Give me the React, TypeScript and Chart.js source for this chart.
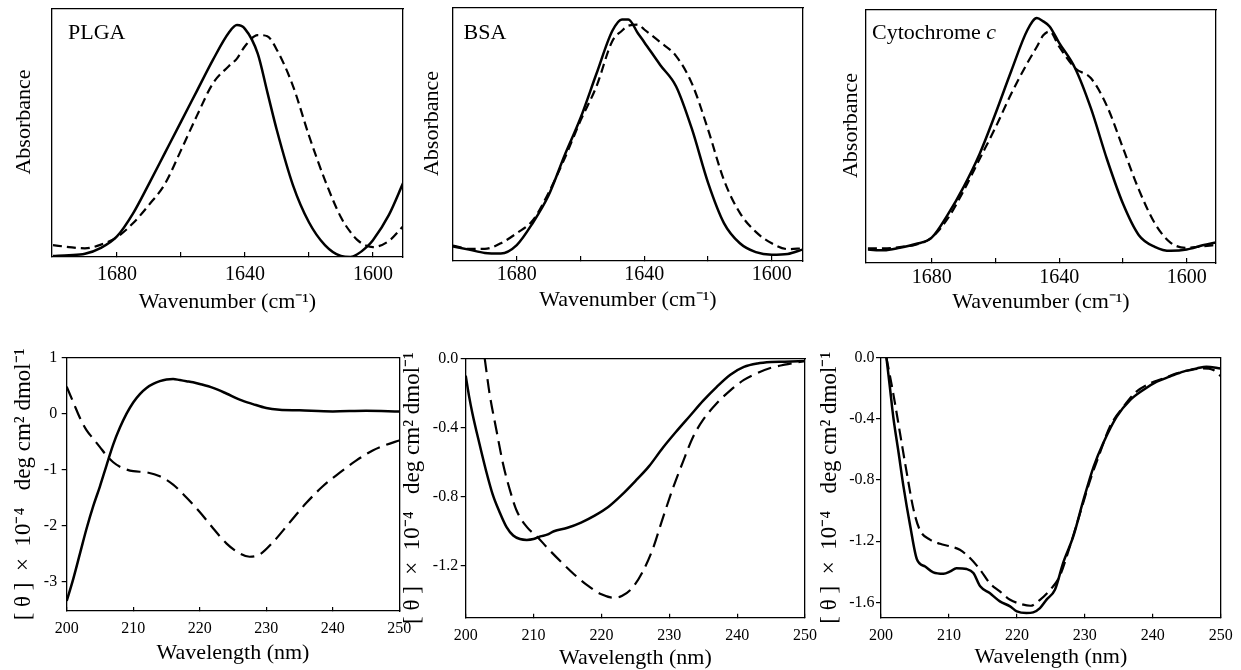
import React, { useEffect, useRef } from 'react';
import { Chart, registerables } from 'chart.js';

Chart.register(...registerables);

const SERIF = "'Liberation Serif', 'Times New Roman', serif";

// ---------- FTIR (amide I) data, normalised absorbance ----------
const ftirTicks = [1680, 1660, 1640, 1620, 1600];
const ftirLabeled = [1680, 1640, 1600];

const plgaWn = [1700, 1695, 1690, 1685, 1680, 1675, 1670, 1665, 1660, 1655, 1650, 1645, 1642.5, 1640, 1636, 1633, 1630, 1625, 1620, 1615, 1610, 1607, 1605, 1602, 1600, 1595, 1590.5];
const plgaSolid = [0.004, 0.007, 0.013, 0.037, 0.083, 0.175, 0.295, 0.42, 0.545, 0.67, 0.795, 0.905, 0.935, 0.92, 0.82, 0.665, 0.51, 0.29, 0.14, 0.048, 0.004, 0.0, 0.01, 0.04, 0.068, 0.17, 0.3];
const plgaDashed = [0.048, 0.04, 0.035, 0.05, 0.08, 0.136, 0.21, 0.295, 0.43, 0.57, 0.7, 0.77, 0.8, 0.85, 0.895, 0.89, 0.835, 0.69, 0.49, 0.31, 0.16, 0.1, 0.07, 0.045, 0.04, 0.065, 0.125];

const bsaWn = [1700, 1695, 1690, 1685, 1680, 1675, 1670, 1665, 1660, 1655, 1650, 1647, 1645, 1642, 1640, 1635, 1630, 1625, 1620, 1615, 1610, 1605, 1600, 1595, 1590.5];
const bsaSolid = [0.057, 0.045, 0.032, 0.03, 0.063, 0.15, 0.26, 0.417, 0.565, 0.74, 0.91, 0.955, 0.955, 0.9, 0.865, 0.775, 0.69, 0.52, 0.31, 0.15, 0.07, 0.035, 0.025, 0.028, 0.045];
const bsaDashed = [0.061, 0.048, 0.048, 0.07, 0.11, 0.16, 0.27, 0.405, 0.555, 0.69, 0.87, 0.91, 0.93, 0.934, 0.915, 0.865, 0.81, 0.7, 0.52, 0.32, 0.19, 0.115, 0.07, 0.047, 0.05];

const cytWn = [1700, 1695, 1690, 1685, 1680, 1675, 1670, 1665, 1660, 1655, 1650, 1647, 1645, 1643, 1640, 1635, 1630, 1625, 1620, 1615, 1610, 1605, 1600, 1595, 1590.5];
const cytSolid = [0.053, 0.05, 0.06, 0.075, 0.1, 0.19, 0.3, 0.43, 0.59, 0.76, 0.92, 0.968, 0.955, 0.935, 0.87, 0.77, 0.61, 0.41, 0.235, 0.11, 0.064, 0.048, 0.053, 0.07, 0.082];
const cytDashed = [0.058, 0.058, 0.063, 0.072, 0.1, 0.175, 0.285, 0.41, 0.535, 0.67, 0.79, 0.855, 0.9, 0.915, 0.855, 0.77, 0.73, 0.62, 0.455, 0.29, 0.157, 0.08, 0.06, 0.066, 0.072];

// ---------- CD data, [theta] x 10^-4 ----------
const cdXTicks = [200, 210, 220, 230, 240, 250];
const plgaCdYTicks = [1, 0, -1, -2, -3];
const bsaCdYTicks = [0, -0.4, -0.8, -1.2];
const cytCdYTicks = [0, -0.4, -0.8, -1.2, -1.6];

const plgaCdSolidWl = [200, 201, 202, 203, 204, 205, 206, 207, 208, 209, 210, 211, 212, 213, 214, 215, 216, 217, 218, 219, 220, 222, 224, 226, 228, 230, 232, 235, 240, 245, 250];
const plgaCdSolid = [-3.35, -2.95, -2.5, -2.05, -1.65, -1.3, -0.92, -0.55, -0.25, 0.0, 0.2, 0.35, 0.46, 0.53, 0.58, 0.61, 0.62, 0.6, 0.58, 0.56, 0.53, 0.46, 0.36, 0.25, 0.17, 0.1, 0.07, 0.06, 0.04, 0.05, 0.04];
const plgaCdDashedWl = [200, 201, 202, 203, 204, 205, 206, 207, 208, 209, 210, 212, 214, 216, 218, 220, 222, 224, 226, 227.5, 229, 231, 233.5, 236, 238.5, 241, 243.5, 246, 248, 250];
const plgaCdDashed = [0.48, 0.2, -0.08, -0.3, -0.45, -0.6, -0.75, -0.87, -0.95, -1.0, -1.03, -1.05, -1.12, -1.27, -1.5, -1.76, -2.05, -2.32, -2.5, -2.56, -2.52, -2.3, -1.95, -1.6, -1.3, -1.06, -0.84, -0.66, -0.56, -0.48];

const bsaCdSolidWl = [200, 200.5, 201, 202, 203, 204, 205, 206, 207, 208, 209, 210, 211, 212, 213, 215, 217, 219, 221, 223, 225, 227, 229, 231, 233, 235, 237, 239, 241, 243, 245, 247, 250];
const bsaCdSolid = [-0.1, -0.22, -0.32, -0.49, -0.65, -0.79, -0.89, -0.975, -1.025, -1.045, -1.05, -1.045, -1.03, -1.02, -1.0, -0.98, -0.95, -0.91, -0.86, -0.79, -0.71, -0.625, -0.52, -0.425, -0.335, -0.245, -0.165, -0.095, -0.05, -0.03, -0.022, -0.02, -0.015];
const bsaCdDashedWl = [202.8, 203.5, 204.5, 205.5, 206.5, 207.5, 209, 210.5, 212, 214, 216, 218, 220, 221.8, 223, 224.5, 226, 227.5, 229, 230.5, 232, 233.5, 235, 237, 239, 241, 243, 245, 247, 250];
const bsaCdDashed = [0, -0.2, -0.41, -0.61, -0.76, -0.88, -0.975, -1.03, -1.095, -1.175, -1.25, -1.315, -1.365, -1.385, -1.375, -1.33, -1.24, -1.11, -0.93, -0.755, -0.6, -0.455, -0.355, -0.26, -0.185, -0.125, -0.085, -0.055, -0.037, -0.015];

const cytCdSolidWl = [200.8, 201.3, 201.8, 202.6, 203.3, 204.3, 205.3, 206.5, 207.7, 209.2, 210.2, 211.1, 212.6, 213.6, 214.6, 216, 217.5, 219, 220, 221.4, 222.4, 223.4, 224.4, 225.6, 226.8, 228.3, 229.8, 231.3, 232.7, 234.7, 236.7, 238.6, 240.6, 242.5, 244.5, 246.5, 247.9, 250];
const cytCdSolid = [0, -0.19, -0.385, -0.625, -0.84, -1.1, -1.32, -1.365, -1.404, -1.413, -1.397, -1.376, -1.382, -1.408, -1.495, -1.539, -1.593, -1.626, -1.659, -1.67, -1.665, -1.637, -1.58, -1.517, -1.343, -1.169, -0.93, -0.712, -0.559, -0.385, -0.276, -0.211, -0.157, -0.124, -0.091, -0.07, -0.059, -0.07];
const cytCdDashedWl = [200.8, 201.8, 202.8, 203.8, 204.8, 205.7, 207.2, 208.7, 210.2, 211.6, 213.1, 214.6, 216, 217.5, 219, 220.5, 222, 223.4, 224.9, 226.3, 227.8, 229.3, 230.8, 232.2, 233.7, 235.7, 237.6, 239.6, 241.6, 243.5, 245.5, 247.4, 248.9, 250];
const cytCdDashed = [0, -0.233, -0.494, -0.755, -0.995, -1.125, -1.19, -1.217, -1.234, -1.256, -1.31, -1.387, -1.474, -1.528, -1.583, -1.609, -1.622, -1.583, -1.517, -1.43, -1.234, -1.017, -0.799, -0.625, -0.45, -0.32, -0.222, -0.168, -0.135, -0.102, -0.081, -0.07, -0.08, -0.12];

const CD_Y_TITLE = '[ θ ]  ×  10⁻⁴   deg cm² dmol⁻¹';
const ABS_TITLE = '\u2002\u2002Absorbance';

interface Series { xs: number[]; ys: number[]; dash: number[]; width: number; }
interface LabelPart { text: string; italic?: boolean; }
interface PanelCfg {
  left: number; top: number; w: number; h: number;
  padTop: number; padRight: number; yWidth: number; xHeight: number;
  xMin: number; xMax: number; reverse: boolean; xTicks: number[];
  xLabel: (v: number) => string; xTickSize: number; xTickPad: number; xTickLen: number;
  yMin: number; yMax: number; yTicks: number[] | null; yLabel: (v: number) => string;
  yTickSize: number; yTickPad: number; yTickLen: number;
  xTitle: string; xTitlePb: number; yTitle: string; yTitlePt: number; yTitleSize: number;
  series: Series[];
  label?: { parts: LabelPart[]; dx: number; dy: number };
}

const innerLabel = {
  id: 'innerLabel',
  afterDraw(chart: any, _args: any, opts: any) {
    if (!opts || !opts.parts) return;
    const { ctx, chartArea } = chart;
    ctx.save();
    ctx.fillStyle = '#000';
    ctx.textBaseline = 'middle';
    ctx.textAlign = 'left';
    let x = chartArea.left + opts.dx;
    const y = chartArea.top + opts.dy;
    for (const p of opts.parts) {
      ctx.font = `${p.italic ? 'italic ' : ''}22px ${SERIF}`;
      ctx.fillText(p.text, x, y);
      x += ctx.measureText(p.text).width;
    }
    ctx.restore();
  },
};

function buildConfig(c: PanelCfg): any {
  const frame = { display: true, color: '#000', width: 1.3 };
  return {
    type: 'line',
    data: {
      datasets: c.series.map((s) => ({
        data: s.xs.map((x, i) => ({ x, y: s.ys[i] })),
        borderColor: '#000',
        borderWidth: s.width,
        borderDash: s.dash,
        pointRadius: 0,
        fill: false,
        cubicInterpolationMode: 'monotone',
      })),
    },
    plugins: [innerLabel],
    options: {
      animation: false,
      responsive: false,
      devicePixelRatio: 1,
      events: [],
      layout: { padding: { top: c.padTop, right: c.padRight, bottom: 0, left: 0 } },
      plugins: {
        legend: { display: false },
        tooltip: { enabled: false },
        innerLabel: c.label ? c.label : {},
      },
      scales: {
        x: {
          type: 'linear', position: 'bottom', min: c.xMin, max: c.xMax, reverse: c.reverse,
          afterBuildTicks: (s: any) => { s.ticks = c.xTicks.map((v) => ({ value: v })); },
          afterFit: (s: any) => { s.height = c.xHeight; s.paddingLeft = 0; s.paddingRight = 0; },
          grid: { display: true, drawOnChartArea: false, drawTicks: true, tickLength: -c.xTickLen, color: '#000', lineWidth: 1.2 },
          border: frame,
          ticks: {
            autoSkip: false, maxRotation: 0, color: '#000', padding: c.xTickPad,
            font: { family: SERIF, size: c.xTickSize },
            callback: (v: any) => c.xLabel(Number(v)),
          },
          title: { display: true, text: c.xTitle, color: '#000', font: { family: SERIF, size: 22 }, padding: { top: 0, bottom: c.xTitlePb } },
        },
        y: {
          type: 'linear', position: 'left', min: c.yMin, max: c.yMax,
          afterBuildTicks: (s: any) => { if (c.yTicks) s.ticks = c.yTicks.map((v) => ({ value: v })); },
          afterFit: (s: any) => { s.width = c.yWidth; s.paddingTop = 0; s.paddingBottom = 0; },
          grid: { display: c.yTicks !== null, drawOnChartArea: false, drawTicks: true, tickLength: c.yTickLen, color: '#000', lineWidth: 1.2 },
          border: frame,
          ticks: {
            display: c.yTicks !== null, color: '#000', padding: c.yTickPad,
            font: { family: SERIF, size: c.yTickSize },
            callback: (v: any) => c.yLabel(Number(v)),
          },
          title: { display: true, text: c.yTitle, color: '#000', font: { family: SERIF, size: c.yTitleSize }, padding: { top: c.yTitlePt, bottom: 0 } },
        },
        x2: {
          type: 'linear', position: 'top', min: 0, max: 1,
          afterFit: (s: any) => { s.height = 0; s.paddingLeft = 0; s.paddingRight = 0; },
          grid: { display: false }, ticks: { display: false }, border: frame,
        },
        y2: {
          type: 'linear', position: 'right', min: 0, max: 1,
          afterFit: (s: any) => { s.width = 0; s.paddingTop = 0; s.paddingBottom = 0; },
          grid: { display: false }, ticks: { display: false }, border: frame,
        },
      },
    },
  };
}

const ftirLabel = (v: number) => (ftirLabeled.includes(v) ? String(v) : '');
const int = (v: number) => String(Math.round(v));
const oneDec = (v: number) => (Math.abs(v) < 1e-9 ? '0.0' : v.toFixed(1));
const none = () => '';

const TOP_DASH = [9, 5];
const CD_DASH = [14, 7];

const ftirCommon = {
  top: 0, h: 320, reverse: true, xTicks: ftirTicks, xLabel: ftirLabel, xTickSize: 20, xTickLen: 5,
  yMin: 0, yMax: 1, yTicks: null, yLabel: none, yTickSize: 16, yTickPad: 0, yTickLen: 0,
  xTitle: 'Wavenumber (cm⁻¹)', yTitle: ABS_TITLE, yTitleSize: 22,
};
const cdCommon = {
  top: 320, h: 350, xMin: 200, xMax: 250, reverse: false, xTicks: cdXTicks, xLabel: int, xTickSize: 16, xTickPad: 12, xTickLen: 4,
  yTickSize: 16, yTickLen: 5, xTitle: 'Wavelength (nm)', yTitle: CD_Y_TITLE, yTitleSize: 23,
};

const panels: PanelCfg[] = [
  {
    ...ftirCommon, left: 0, w: 410, padTop: 9, padRight: 7, yWidth: 52, xHeight: 63,
    xMin: 1590.6, xMax: 1700.3, xTickPad: 11, xTitlePb: 4.8, yTitlePt: 10.8,
    series: [
      { xs: plgaWn, ys: plgaSolid, dash: [], width: 2.5 },
      { xs: plgaWn, ys: plgaDashed, dash: TOP_DASH, width: 2.2 },
    ],
    label: { parts: [{ text: 'PLGA' }], dx: 16, dy: 24 },
  },
  {
    ...ftirCommon, left: 405, w: 410, padTop: 8, padRight: 12, yWidth: 48, xHeight: 59,
    xMin: 1590.2, xMax: 1700, xTickPad: 7, xTitlePb: 6.8, yTitlePt: 13.8,
    series: [
      { xs: bsaWn, ys: bsaSolid, dash: [], width: 2.5 },
      { xs: bsaWn, ys: bsaDashed, dash: TOP_DASH, width: 2.2 },
    ],
    label: { parts: [{ text: 'BSA' }], dx: 10.6, dy: 25 },
  },
  {
    ...ftirCommon, left: 815, w: 426, padTop: 10, padRight: 25, yWidth: 51, xHeight: 57,
    xMin: 1590.8, xMax: 1700.6, xTickPad: 8, xTitlePb: 4.8, yTitlePt: 22.8,
    series: [
      { xs: cytWn, ys: cytSolid, dash: [], width: 2.5 },
      { xs: cytWn, ys: cytDashed, dash: TOP_DASH, width: 2.2 },
    ],
    label: { parts: [{ text: 'Cytochrome ' }, { text: 'c', italic: true }], dx: 6, dy: 23 },
  },
  {
    ...cdCommon, left: 0, w: 420, padTop: 37.7, padRight: 20.7, yWidth: 66.7, xHeight: 59,
    yMin: -3.53, yMax: 1, yTicks: plgaCdYTicks, yLabel: int, yTickPad: 4.5, xTitlePb: 3.8, yTitlePt: 10.2,
    series: [
      { xs: plgaCdSolidWl, ys: plgaCdSolid, dash: [], width: 2.5 },
      { xs: plgaCdDashedWl, ys: plgaCdDashed, dash: CD_DASH, width: 2.2 },
    ],
  },
  {
    ...cdCommon, left: 395, w: 430, padTop: 38.3, padRight: 20, yWidth: 70.7, xHeight: 52.3,
    yMin: -1.5, yMax: 0, yTicks: bsaCdYTicks, yLabel: oneDec, yTickPad: 2.5, xTitlePb: -1, yTitlePt: 4.2,
    series: [
      { xs: bsaCdSolidWl, ys: bsaCdSolid, dash: [], width: 2.5 },
      { xs: bsaCdDashedWl, ys: bsaCdDashed, dash: CD_DASH, width: 2.2 },
    ],
  },
  {
    ...cdCommon, left: 810, w: 431, padTop: 37.7, padRight: 20.3, yWidth: 71, xHeight: 52.3,
    yMin: -1.7, yMax: 0, yTicks: cytCdYTicks, yLabel: oneDec, yTickPad: 1.5, xTitlePb: 0, yTitlePt: 6.2,
    series: [
      { xs: cytCdSolidWl, ys: cytCdSolid, dash: [], width: 2.5 },
      { xs: cytCdDashedWl, ys: cytCdDashed, dash: [12, 6], width: 2.2 },
    ],
  },
];

function Panel({ cfg }: { cfg: PanelCfg }) {
  const ref = useRef<HTMLCanvasElement>(null);
  useEffect(() => {
    const chart = new Chart(ref.current as HTMLCanvasElement, buildConfig(cfg));
    return () => chart.destroy();
  }, [cfg]);
  return (
    <canvas
      ref={ref}
      width={cfg.w}
      height={cfg.h}
      style={{ position: 'absolute', left: cfg.left, top: cfg.top, width: cfg.w, height: cfg.h }}
    />
  );
}

export default function App() {
  return (
    <div style={{ position: 'absolute', left: 0, top: 0, width: 1241, height: 670, background: '#fff', overflow: 'hidden' }}>
      {panels.map((p, i) => (
        <Panel key={i} cfg={p} />
      ))}
    </div>
  );
}
